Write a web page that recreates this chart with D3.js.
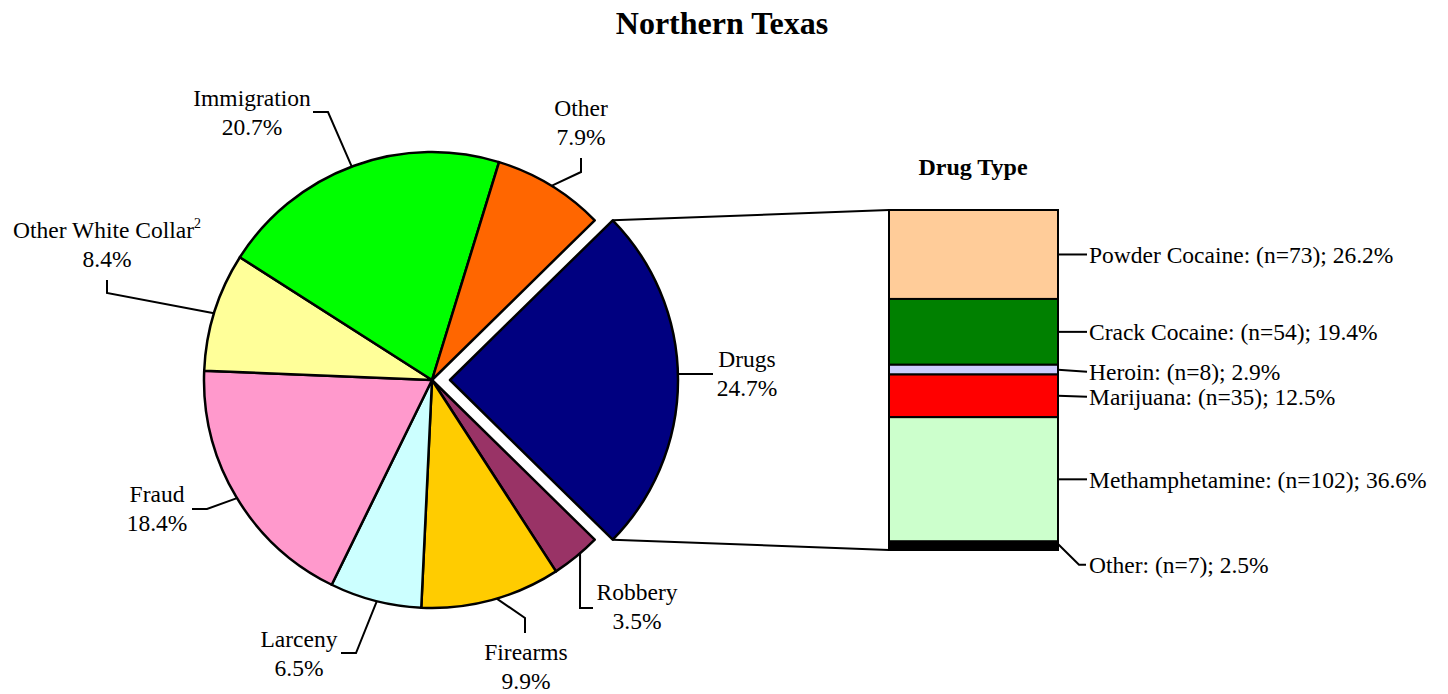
<!DOCTYPE html>
<html>
<head>
<meta charset="utf-8">
<script src="https://cdn.jsdelivr.net/npm/d3@7"></script>
<style>
  body { margin: 0; background: #fff; }
  svg { display: block; font-family: "Liberation Serif", "Times New Roman", serif; }
</style>
</head>
<body>
<script>
// offense categories, clockwise starting with the exploded Drugs slice
const offenses = ["Drugs", "Robbery", "Firearms", "Larceny", "Fraud", "Other White Collar", "Immigration", "Other"];
const offensePct = [24.7, 3.5, 9.9, 6.5, 18.4, 8.4, 20.7, 7.9];
const offenseColors = ["#000080", "#993366", "#ffcc00", "#ccffff", "#ff99cc", "#ffff99", "#00ff00", "#ff6600"];

// drug type breakdown (top to bottom of the bar)
const drugTypes = ["Powder Cocaine", "Crack Cocaine", "Heroin", "Marijuana", "Methamphetamine", "Other"];
const drugCounts = [73, 54, 8, 35, 102, 7];
const drugPct = [26.2, 19.4, 2.9, 12.5, 36.6, 2.5];
const drugColors = ["#ffcc99", "#008000", "#ccccff", "#ff0000", "#ccffcc", "#000000"];

const W = 1448, H = 694;
const cx = 432, cy = 380, R = 228, explode = 18;
const font = 23.5;

// label placement for the pie (angle of the leader start in degrees, elbows, text)
const pieLabels = {
  "Immigration":        {a: -20.6, pts: [[328,112],[313,112]], tx: 252, ty: 106},
  "Other":              {a: 31.6,  pts: [[581,172],[581,158]], tx: 581, ty: 116},
  "Drugs":              {a: 88.5,  pts: [[713,374]],           tx: 747, ty: 367},
  "Robbery":            {a: 139.5, pts: [[580,608],[593,608]], tx: 637, ty: 600},
  "Firearms":           {a: 163.5, pts: [[525,618],[525,633]], tx: 526, ty: 660},
  "Larceny":            {a: 194,   pts: [[356,653],[341,653]], tx: 299, ty: 647},
  "Fraud":              {a: 238.8, pts: [[207,509],[192,509]], tx: 157, ty: 502},
  "Other White Collar": {a: 287,   pts: [[107,293],[107,280]], tx: 107, ty: 238}
};
// vertical shift of the bar labels from the segment centre
const barLabelDy = {"Heroin": 2, "Marijuana": 1, "Other": 19};

const svg = d3.select("body").append("svg")
  .attr("width", W)
  .attr("height", H);

svg.append("text")
  .attr("x", 722).attr("y", 34)
  .attr("text-anchor", "middle")
  .attr("font-size", 32).attr("font-weight", "bold")
  .text("Northern Texas");

// ---- pie ----
const rows = offenses.map((name, i) => ({name, value: offensePct[i], color: offenseColors[i]}));
const total = d3.sum(offensePct);
const start = Math.PI / 2 - (offensePct[0] / total) * Math.PI;

const pie = d3.pie().sort(null).value(d => d.value)
  .startAngle(start).endAngle(start + 2 * Math.PI);
const arcs = pie(rows);
const arc = d3.arc().innerRadius(0).outerRadius(R);

function offsetOf(d){
  if (d.data.name !== "Drugs") return [0, 0];
  const m = (d.startAngle + d.endAngle) / 2;
  return [explode * Math.sin(m), -explode * Math.cos(m)];
}

const pieG = svg.append("g").attr("transform", `translate(${cx},${cy})`);
pieG.selectAll("path.slice")
  .data(arcs)
  .enter().append("path")
  .attr("class", "slice")
  .attr("transform", d => `translate(${offsetOf(d)})`)
  .attr("d", arc)
  .attr("fill", d => d.data.color)
  .attr("stroke", "#000")
  .attr("stroke-width", 2.5)
  .attr("stroke-linejoin", "round");

// leaders + labels
const line = d3.line();
arcs.forEach(d => {
  const L = pieLabels[d.data.name];
  const off = offsetOf(d);
  const a = L.a * Math.PI / 180;
  const p0 = [cx + off[0] + R * Math.sin(a), cy + off[1] - R * Math.cos(a)];
  svg.append("path")
    .attr("d", line([p0].concat(L.pts)))
    .attr("fill", "none")
    .attr("stroke", "#000")
    .attr("stroke-width", 2);

  const t = svg.append("text")
    .attr("text-anchor", "middle")
    .attr("font-size", font);
  const first = t.append("tspan").attr("x", L.tx).attr("y", L.ty).text(d.data.name);
  if (d.data.name === "Other White Collar") {
    first.append("tspan").attr("font-size", 14).attr("dy", -10).text("2");
  }
  t.append("tspan").attr("x", L.tx).attr("y", L.ty + 29)
    .text(d3.format(".1f")(d.data.value) + "%");
});

// ---- stacked bar ----
const barX0 = 889, barX1 = 1058;
const y = d3.scaleLinear().domain([0, d3.sum(drugCounts)]).range([210, 550]);
const cum = d3.cumsum([0].concat(drugCounts));
const segs = drugTypes.map((name, i) => ({
  name, n: drugCounts[i], pct: drugPct[i], color: drugColors[i],
  y0: y(cum[i]), y1: y(cum[i + 1])
}));

// connectors from the exploded slice to the bar
const drugs = arcs[0], dOff = offsetOf(drugs);
const edgePt = ang => [cx + dOff[0] + R * Math.sin(ang), cy + dOff[1] - R * Math.cos(ang)];
svg.append("path")
  .attr("d", line([edgePt(drugs.startAngle), [barX0, y.range()[0]]]))
  .attr("stroke", "#000").attr("stroke-width", 2).attr("fill", "none");
svg.append("path")
  .attr("d", line([edgePt(drugs.endAngle), [barX0, y.range()[1]]]))
  .attr("stroke", "#000").attr("stroke-width", 2).attr("fill", "none");

svg.selectAll("rect.seg")
  .data(segs)
  .enter().append("rect")
  .attr("class", "seg")
  .attr("x", barX0)
  .attr("y", d => d.y0)
  .attr("width", barX1 - barX0)
  .attr("height", d => d.y1 - d.y0)
  .attr("fill", d => d.color)
  .attr("stroke", "#000")
  .attr("stroke-width", 2);

svg.append("text")
  .attr("x", 973).attr("y", 175)
  .attr("text-anchor", "middle")
  .attr("font-size", 24).attr("font-weight", "bold")
  .text("Drug Type");

segs.forEach(d => {
  const yc = (d.y0 + d.y1) / 2;
  const dy = barLabelDy[d.name] || 0;
  const pts = dy > 5
    ? [[barX1, d.y1 - 6], [barX1 + 21, yc + dy], [barX1 + 28, yc + dy]]
    : [[barX1, yc], [barX1 + 29, yc + dy]];
  svg.append("path")
    .attr("d", line(pts))
    .attr("fill", "none").attr("stroke", "#000").attr("stroke-width", 2);
  svg.append("text")
    .attr("x", barX1 + 31)
    .attr("y", yc + dy)
    .attr("dy", "0.35em")
    .attr("font-size", font)
    .text(`${d.name}: (n=${d.n}); ${d3.format(".1f")(d.pct)}%`);
});
</script>
</body>
</html>
